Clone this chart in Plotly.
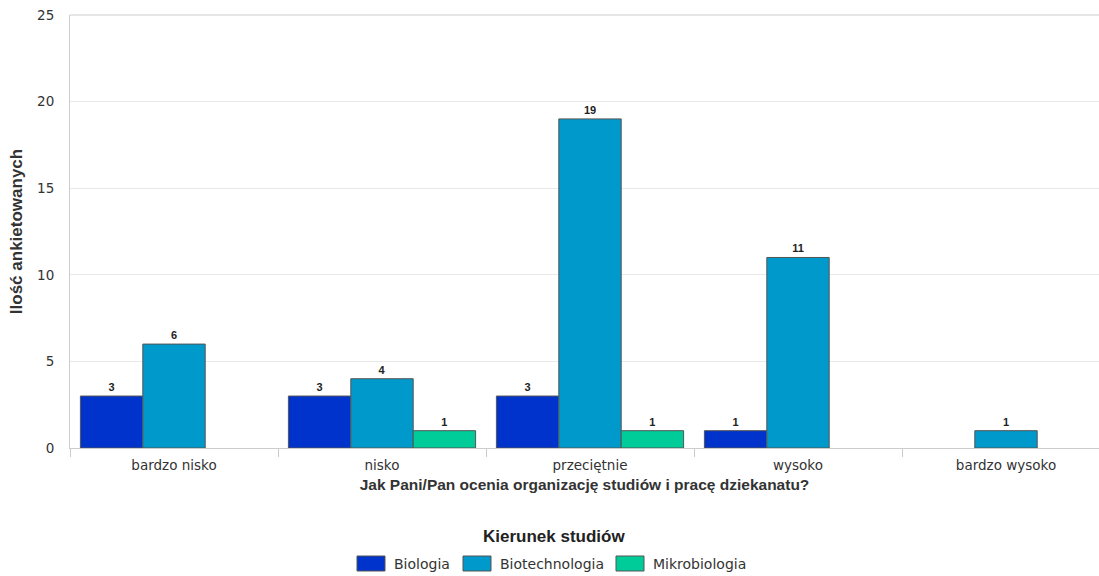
import plotly.graph_objects as go

categories = ["bardzo nisko", "nisko", "przeciętnie", "wysoko", "bardzo wysoko"]
series_names = ["Biologia", "Biotechnologia", "Mikrobiologia"]
biologia = [3, 3, 3, 1, None]
biotechnologia = [6, 4, 19, 11, 1]
mikrobiologia = [None, 1, 1, None, None]
colors = ["#0033CC", "#0099CC", "#00CC99"]
y_ticks = [0, 5, 10, 15, 20, 25]

# plot geometry (pixels)
W, H = 1099, 576
L, R, T, B = 70, 0, 15, 128
PW, PH = W - L - R, H - T - B

def px_x(px):
    return (px - L) / PW

def px_y(py):
    return (H - B - py) / PH

fig = go.Figure()
for name, vals, col in zip(series_names, [biologia, biotechnologia, mikrobiologia], colors):
    fig.add_trace(go.Bar(
        x=categories, y=vals, name=name,
        marker=dict(color=col, line=dict(color="#555555", width=1)),
        text=[("" if v is None else "<b>%d</b>" % v) for v in vals],
        textposition="outside",
        textfont=dict(family="Liberation Sans, Arial", size=11, color="#222222"),
        cliponaxis=False,
        showlegend=False,
    ))

fig.update_layout(
    width=W, height=H,
    margin=dict(l=L, r=R, t=T, b=B),
    paper_bgcolor="white", plot_bgcolor="white",
    barmode="group", bargap=0.1, bargroupgap=0,
    font=dict(family="DejaVu Sans", size=12, color="#333333"),
    xaxis=dict(
        range=[-0.5, -0.5 + PW / 208.0],
        showline=True, linecolor="#cccccc", linewidth=1,
        ticks="outside", tickson="boundaries", ticklen=8, tickcolor="#cccccc",
        ticklabelstandoff=5,
        tickfont=dict(family="DejaVu Sans", size=13.5, color="#333333"),
        title=dict(text="<b>Jak Pani/Pan ocenia organizację studiów i pracę dziekanatu?</b>",
                   font=dict(family="Liberation Sans, Arial", size=15.5, color="#333333"),
                   standoff=6),
    ),
    yaxis=dict(
        range=[0, 25], tickvals=y_ticks, showgrid=True, gridcolor="#e8e8e8",
        showline=True, linecolor="#cccccc", linewidth=1,
        zeroline=False, ticks="", ticklabelstandoff=12,
        tickfont=dict(family="DejaVu Sans", size=13.5, color="#333333"),
        title=dict(text="<b>Ilość ankietowanych</b>",
                   font=dict(family="Liberation Sans, Arial", size=17, color="#333333"),
                   standoff=10),
    ),
    showlegend=False,
)
fig.add_shape(type="line", xref="paper", yref="paper", x0=0, x1=1, y0=1, y1=1,
              line=dict(color="#cccccc", width=1))

# custom legend (title + wide swatches)
fig.add_annotation(xref="paper", yref="paper", x=px_x(554), y=px_y(536),
                   text="<b>Kierunek studiów</b>", showarrow=False,
                   xanchor="center", yanchor="middle",
                   font=dict(family="Liberation Sans, Arial", size=17, color="#222222"))
box_left = [357, 463, 616]
for name, col, bx in zip(series_names, colors, box_left):
    fig.add_shape(type="rect", xref="paper", yref="paper",
                  x0=px_x(bx), x1=px_x(bx + 28), y0=px_y(571), y1=px_y(556),
                  fillcolor=col, line=dict(color="#555555", width=1))
    fig.add_annotation(xref="paper", yref="paper", x=px_x(bx + 35), y=px_y(564),
                       text=name, showarrow=False, xanchor="left", yanchor="middle",
                       font=dict(family="DejaVu Sans", size=14, color="#333333"))

fig.write_html("out.html")
